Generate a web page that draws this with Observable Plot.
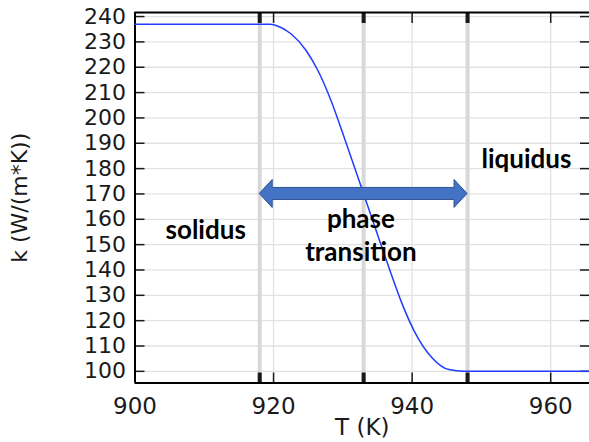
<!DOCTYPE html>
<html>
<head>
<meta charset="utf-8">
<script src="https://cdn.jsdelivr.net/npm/d3@7"></script>
<script src="https://cdn.jsdelivr.net/npm/@observablehq/plot@0.6"></script>
<style>
  html, body { margin: 0; padding: 0; background: #fff; }
</style>
</head>
<body>
<div id="chart"></div>
<script>
// Curve: thermal conductivity k vs temperature T
const temperature = [900, 919.5, 921, 922.5, 924.7, 926.4, 928.3, 930.2, 932.6, 935, 936.9, 938.4, 940.3, 942.9, 945.3, 947.5, 966];
const conductivity = [237, 237, 235.8, 233.2, 226.6, 218.7, 206.8, 192.3, 173.2, 154, 139, 127.7, 115.9, 105.3, 100.7, 100, 100];

// Axis ticks
const xTicks = [900, 920, 940, 960];
const xGrid = [920, 940, 960];
const yTicks = [100, 110, 120, 130, 140, 150, 160, 170, 180, 190, 200, 210, 220, 230, 240];

// Phase boundary markers (solidus, mid, liquidus)
const phaseLines = [918, 933, 948];

// Double arrow
const arrowFrom = 918;
const arrowTo = 948;
const arrowK = 170;

// Annotations
const labelText = ["solidus", "phase\ntransition", "liquidus"];
const labelT = [910.2, 932.6, 956.5];
const labelK = [156.3, 154.1, 184.3];

const xDomain = [900, 965.6];
const yDomain = [95.4, 241.6];

const curve = temperature.map((t, i) => ({T: t, k: conductivity[i]}));
const labels = labelText.map((s, i) => ({text: s, T: labelT[i], k: labelK[i]}));

const arrowMark = (index, {x, y}) => {
  const xl = x(arrowFrom), xr = x(arrowTo), yc = y(arrowK);
  const hl = 13, hh = 14, sh = 6;
  const pts = [
    [xl, yc], [xl + hl, yc - hh], [xl + hl, yc - sh], [xr - hl, yc - sh], [xr - hl, yc - hh],
    [xr, yc], [xr - hl, yc + hh], [xr - hl, yc + sh], [xl + hl, yc + sh], [xl + hl, yc + hh]
  ];
  const d = "M" + pts.map(p => p.join(",")).join("L") + "Z";
  return d3.create("svg:path")
    .attr("d", d)
    .attr("fill", "#4472c4")
    .attr("stroke", "#2f528f")
    .attr("stroke-width", 1)
    .node();
};

const chart = Plot.plot({
  width: 589,
  height: 442,
  marginLeft: 134.5,
  marginRight: 0,
  marginTop: 12,
  marginBottom: 59.5,
  style: {fontFamily: "DejaVu Sans", fontSize: "23px", color: "#1a1a1a", background: "#fff"},
  x: {domain: xDomain, label: null},
  y: {domain: yDomain, label: null},
  marks: [
    Plot.gridY(yTicks, {stroke: "#e2e2e2", strokeOpacity: 1, strokeWidth: 1.3}),
    Plot.gridX(xGrid, {stroke: "#e2e2e2", strokeOpacity: 1, strokeWidth: 1.3}),
    Plot.ruleX(phaseLines, {stroke: "#d8d8d8", strokeWidth: 4}),
    // y axis: inward ticks on both sides, labels on left
    Plot.axisY(yTicks, {anchor: "left", tickSize: -10, text: null, strokeWidth: 1.5, label: null}),
    Plot.axisY(yTicks, {anchor: "right", tickSize: -10, text: null, strokeWidth: 1.5, label: null}),
    Plot.axisY(yTicks, {anchor: "left", tickSize: 0, tickPadding: 9, label: "k (W/(m*K))", labelAnchor: "center", labelOffset: 124, labelArrow: "none", fontSize: 22}),
    // x axis
    Plot.axisX(xGrid, {anchor: "bottom", tickSize: -10, text: null, strokeWidth: 1.5, label: null}),
    Plot.axisX(xGrid, {anchor: "top", tickSize: -10, text: null, strokeWidth: 1.5, label: null}),
    Plot.axisX(phaseLines, {anchor: "bottom", tickSize: -10, text: null, strokeWidth: 4, label: null}),
    Plot.axisX(phaseLines, {anchor: "top", tickSize: -10, text: null, strokeWidth: 4, label: null}),
    Plot.axisX(xTicks, {anchor: "bottom", tickSize: 0, tickPadding: 15, label: "T (K)", labelAnchor: "center", labelOffset: 52, labelArrow: "none"}),
    // frame lines (left, bottom, top)
    Plot.ruleX([xDomain[0]], {stroke: "#000", strokeWidth: 2}),
    Plot.ruleY([yDomain[0], yDomain[1]], {stroke: "#000", strokeWidth: 2}),
    // curve
    Plot.line(curve, {x: "T", y: "k", stroke: "#1f3cff", strokeWidth: 1.5, curve: "monotone-x"}),
    // arrow
    arrowMark,
    // annotations
    Plot.text(labels, {x: "T", y: "k", text: "text", fontFamily: "Lato", fontWeight: "bold", fontSize: 26, lineHeight: 1.27, textAnchor: "middle", lineAnchor: "middle", fill: "#000"})
  ]
});

document.getElementById("chart").appendChild(chart);
</script>
</body>
</html>
